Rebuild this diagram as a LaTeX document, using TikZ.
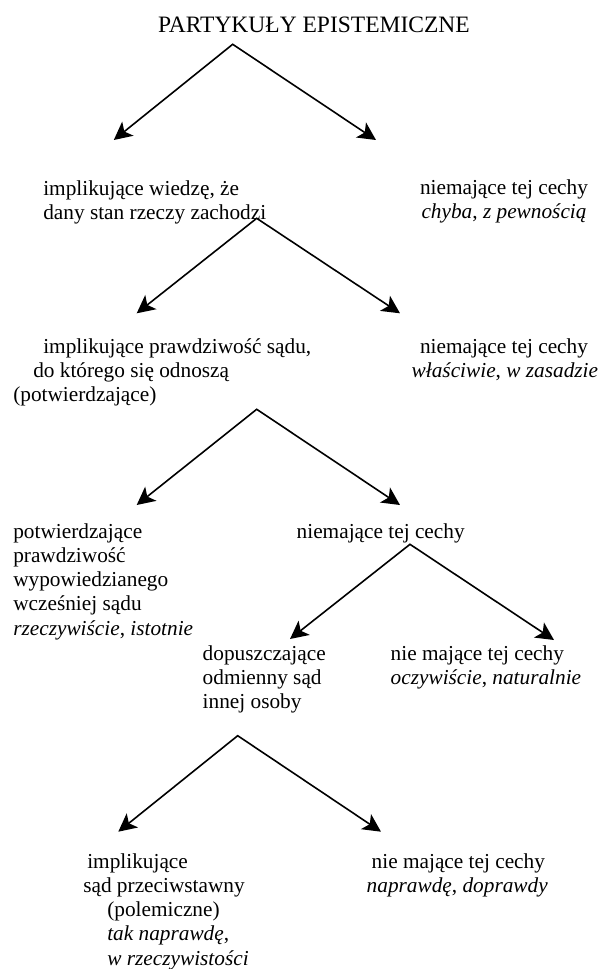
\documentclass[tikz,border=0pt]{standalone}
\usepackage{fontspec}
\setmainfont{Liberation Serif}
\usetikzlibrary{arrows.meta}
\newcommand{\blk}[1]{\vtop{\baselineskip=24.2pt\lineskiplimit=-100pt\halign{##\hfil\cr#1\crcr}}}
\tikzset{
  txt/.style={anchor=base west, inner sep=0pt, outer sep=0pt, font=\fontsize{21.3}{24.2}\selectfont},
  ttl/.style={anchor=base west, inner sep=0pt, outer sep=0pt, font=\fontsize{23.5}{28}\selectfont},
  split/.style={draw=black, line width=1.6pt, line join=miter,
    arrows={Stealth[length=18pt,width=18pt,inset=4.5pt]-Stealth[length=18pt,width=18pt,inset=4.5pt]}}
}
\begin{document}
\begin{tikzpicture}[x=1pt,y=-1pt]
\useasboundingbox[fill=white] (0,0) rectangle (599,969);

% texts
\node[ttl] (title) at (158,32) {PARTYKUŁY EPISTEMICZNE};
\node[txt] (a1) at (43.3,195) {\blk{implikujące wiedzę, że\cr dany stan rzeczy zachodzi}};
\node[txt] (a2) at (420,194.5) {\blk{niemające tej cechy\cr \kern1.5pt\textit{chyba}, \textit{z pewnością}}};
\node[txt] (b1) at (13.3,353.5) {\blk{\kern30pt implikujące prawdziwość sądu,\cr \kern20pt do którego się odnoszą\cr (potwierdzające)}};
\node[txt] (b2) at (411.7,353.5) {\blk{\kern8.3pt niemające tej cechy\cr \textit{właściwie}, \textit{w zasadzie}}};
\node[txt] (c1) at (13.3,538.3) {\blk{potwierdzające\cr prawdziwość\cr wypowiedzianego\cr wcześniej sądu\cr \textit{rzeczywiście}, \textit{istotnie}}};
\node[txt] (c2) at (296.7,538.3) {niemające tej cechy};
\node[txt] (d1) at (202.7,660.5) {\blk{dopuszczające\cr odmienny sąd\cr innej osoby}};
\node[txt] (d2) at (390.7,660.5) {\blk{nie mające tej cechy\cr \textit{oczywiście}, \textit{naturalnie}}};
\node[txt] (e1) at (83.3,868.3) {\blk{\kern4pt implikujące\cr sąd przeciwstawny\cr \kern24pt (polemiczne)\cr \kern24pt \textit{tak naprawdę},\cr \kern24pt \textit{w rzeczywistości}}};
\node[txt] (e2) at (366.7,868.3) {\blk{\kern5pt nie mające tej cechy\cr \textit{naprawdę}, \textit{doprawdy}}};

% connector points
\coordinate (ap1) at (232.7,44.3);
\coordinate (t1l) at (113.8,140);
\coordinate (t1r) at (376,140);
\coordinate (ap2) at (256.7,218.3);
\coordinate (t2l) at (136.7,313.3);
\coordinate (t2r) at (400,313.3);
\coordinate (ap3) at (256.7,409.3);
\coordinate (t3l) at (136.7,505);
\coordinate (t3r) at (400,505);
\coordinate (ap4) at (410,544.3);
\coordinate (t4l) at (290,639);
\coordinate (t4r) at (554,640);
\coordinate (ap5) at (237.7,735.7);
\coordinate (t5l) at (118.3,831.7);
\coordinate (t5r) at (381,831.7);

% connectors
\draw[split] (t1l) -- (ap1) -- (t1r);
\draw[split] (t2l) -- (ap2) -- (t2r);
\draw[split] (t3l) -- (ap3) -- (t3r);
\draw[split] (t4l) -- (ap4) -- (t4r);
\draw[split] (t5l) -- (ap5) -- (t5r);
\end{tikzpicture}
\end{document}
